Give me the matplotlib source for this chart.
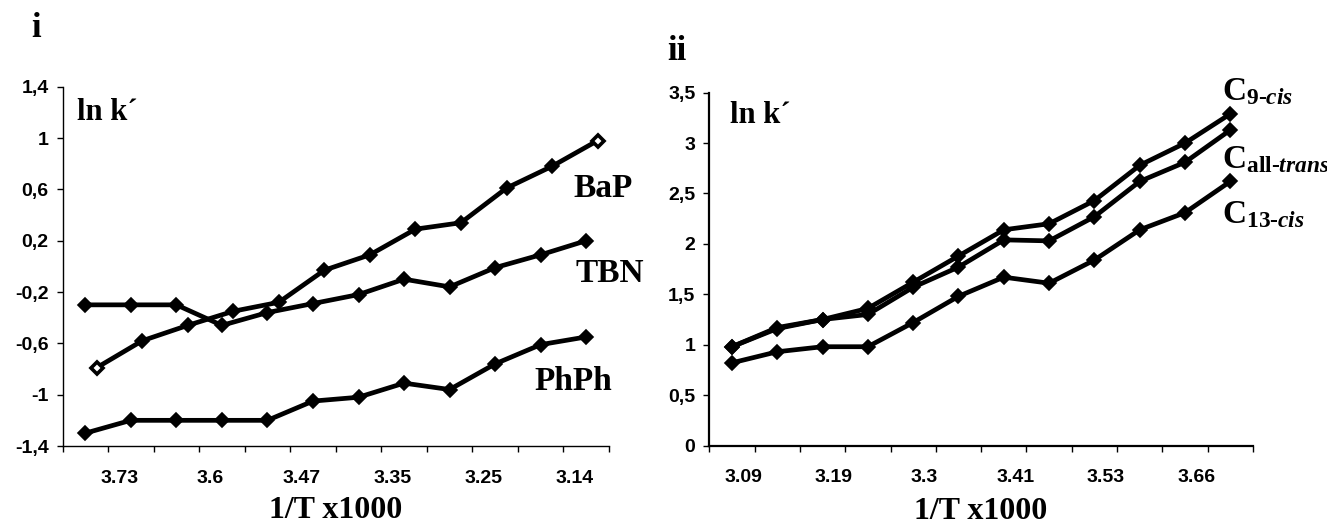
import matplotlib
matplotlib.use('Agg')
import matplotlib.pyplot as plt
import numpy as np

plt.rcParams['font.family'] = ['Liberation Sans', 'DejaVu Sans']
plt.rcParams['mathtext.fontset'] = 'custom'
plt.rcParams['mathtext.rm'] = 'Liberation Serif:bold'
plt.rcParams['mathtext.it'] = 'Liberation Serif:italic:bold'
plt.rcParams['mathtext.bf'] = 'Liberation Serif:bold'

# panel i: ln k' of the PAH probes, 12 temperatures (1/T x1000 falling)
i_ticklabels = ['3.73', '3.6', '3.47', '3.35', '3.25', '3.14']
bap = [-0.79, -0.58, -0.46, -0.35, -0.28, -0.03, 0.09, 0.29, 0.34, 0.61, 0.78, 0.98]
tbn = [-0.3, -0.3, -0.3, -0.46, -0.36, -0.29, -0.22, -0.1, -0.16, -0.01, 0.09, 0.2]
phph = [-1.3, -1.2, -1.2, -1.2, -1.2, -1.05, -1.02, -0.91, -0.96, -0.76, -0.61, -0.55]
bap_shift = 0.25  # BaP series sits a quarter step off the category centres

# panel ii: carotene isomers, 12 temperatures (1/T x1000 rising)
ii_ticklabels = ['3.09', '3.19', '3.3', '3.41', '3.53', '3.66']
c9cis = [0.98, 1.17, 1.25, 1.36, 1.62, 1.88, 2.14, 2.2, 2.43, 2.78, 3.0, 3.29]
call_trans = [0.98, 1.16, 1.25, 1.3, 1.57, 1.77, 2.04, 2.03, 2.27, 2.62, 2.81, 3.13]
c13cis = [0.82, 0.93, 0.98, 0.98, 1.22, 1.48, 1.67, 1.61, 1.84, 2.14, 2.31, 2.62]

W, H = 1327, 525
fig = plt.figure(figsize=(W / 100, H / 100), dpi=100)
ax1 = fig.add_axes([62.5 / W, 1 - 446 / H, (609 - 62.5) / W, (446 - 86.7) / H])
ax2 = fig.add_axes([709.3 / W, 1 - 445.5 / H, (1253 - 709.3) / W, (445.5 - 92.7) / H])

serif = dict(family='Liberation Serif', weight='bold')
line_kw = dict(color='black', lw=3.4, marker='D', ms=6.8, mfc='black', mec='black', mew=1.2,
               solid_joinstyle='miter', clip_on=False)

n = len(tbn)
cat = np.arange(n)

# --- panel i ---
ax1.plot(cat, tbn, **line_kw)
ax1.plot(cat, phph, **line_kw)
bx = cat + bap_shift
ax1.plot(bx, bap, markevery=slice(1, n - 1), **line_kw)
ax1.plot(bx[[0, -1]], np.array(bap)[[0, -1]], ls='none', marker='D', ms=6.5,
         mfc='white', mec='black', mew=2.6, clip_on=False, zorder=3)

ax1.set_ylim(-1.4, 1.4)
yt1 = np.arange(-1.4, 1.41, 0.4)
ax1.set_yticks(yt1)
ax1.set_yticklabels(['-1,4', '-1', '-0,6', '-0,2', '0,2', '0,6', '1', '1,4'])
ax1.text(-0.19, 1.14, 'ln k\u00b4', fontsize=22, **serif)
ax1.text(10.72, 0.54, 'BaP', fontsize=24, **serif)
ax1.text(10.76, -0.12, 'TBN', fontsize=24, **serif)
ax1.text(9.87, -0.96, 'PhPh', fontsize=24, **serif)
lab1 = np.arange(1, n, 2) - 0.25

# --- panel ii ---
for ys in (c13cis, call_trans, c9cis):
    ax2.plot(cat, ys, **line_kw)
ax2.set_ylim(0, 3.5)
ax2.set_yticks(np.arange(0, 3.51, 0.5))
ax2.set_yticklabels(['0', '0,5', '1', '1,5', '2', '2,5', '3', '3,5'])
ax2.text(-0.04, 3.2, 'ln k\u00b4', fontsize=22, **serif)
ax2.text(10.82, 3.43, r'$\mathrm{C}_{\mathrm{9\text{-}}\mathit{cis}}$', fontsize=24)
ax2.text(10.82, 2.75, r'$\mathrm{C}_{\mathrm{all\text{-}}\mathit{trans}}$', fontsize=24)
ax2.text(10.82, 2.21, r'$\mathrm{C}_{\mathrm{13\text{-}}\mathit{cis}}$', fontsize=24)
lab2 = np.arange(0, n, 2) + 0.25

for ax, labpos, labels, lw in ((ax1, lab1, i_ticklabels, 1.0), (ax2, lab2, ii_ticklabels, 1.6)):
    ax.set_xlim(-0.5, n - 0.5)
    ax.spines[['top', 'right']].set_visible(False)
    for s in ('left', 'bottom'):
        ax.spines[s].set_linewidth(lw)
    # tick marks sit on the category boundaries, labels on every other category
    ax.set_xticks(np.arange(-0.5, n, 1.0))
    ax.set_xticklabels([])
    ax.set_xticks(labpos, labels, minor=True)
    ax.tick_params(axis='x', which='minor', length=0, pad=17)
    ax.tick_params(axis='both', which='major', length=4, width=1, direction='out')
    ax.tick_params(axis='y', pad=6)
    for t in ax.get_xticklabels(minor=True) + ax.get_yticklabels():
        t.set_fontsize(14)
        t.set_fontweight('bold')

fig.text(31 / W, 1 - 37 / H, 'i', fontsize=25, **serif)
fig.text(667 / W, 1 - 60 / H, 'ii', fontsize=25, **serif)
fig.text(336 / W, 1 - 518 / H, '1/T x1000', fontsize=23, ha='center', **serif)
fig.text(981 / W, 1 - 519 / H, '1/T x1000', fontsize=23, ha='center', **serif)

fig.savefig('out.png', dpi=100)
